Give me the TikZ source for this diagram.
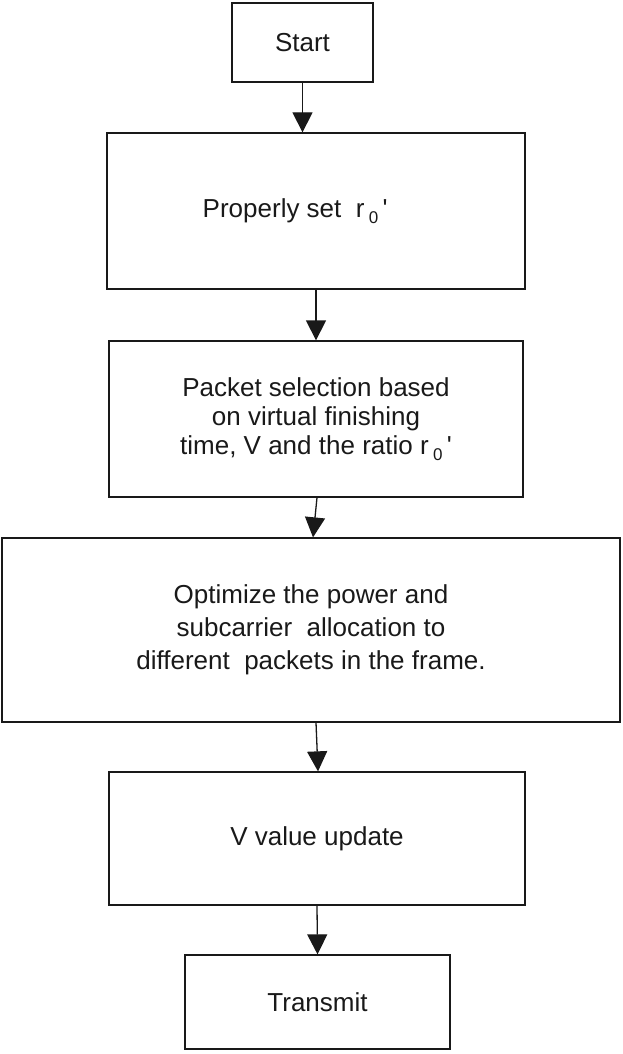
\documentclass[tikz,border=0pt]{standalone}
\usepackage{fontspec}
\setmainfont{Liberation Sans}
\usepackage{tikz}
\usetikzlibrary{arrows.meta}

\newcommand{\rzero}{r\,\raisebox{-0.45ex}{\fontsize{17}{17}\selectfont 0}\,\textquotesingle}

\begin{document}
\begin{tikzpicture}[x=1pt,y=-1pt,->,>={Triangle[length=20pt,width=20pt]},line width=1.3pt,draw=black!90]

  \tikzstyle{block}=[draw=black!90,rectangle,align=center,text=black!90,inner sep=0pt,
                     font=\fontsize{26}{29}\selectfont]

  \useasboundingbox (0,0) rectangle (622,1054);

  \node[block,minimum width=141pt,minimum height=79pt]  (start) at (302.5,42.5) {Start};
  \node[block,minimum width=418pt,minimum height=156pt] (set)   at (316,211)
        {Properly set~~\rzero\hspace*{1.6em}};
  \node[block,minimum width=414pt,minimum height=156pt] (sel)   at (316,419)
        {Packet selection based\\ on virtual finishing\\ time, V and the ratio \rzero};
  \node[block,minimum width=618pt,minimum height=184pt,
        font=\fontsize{26}{33}\selectfont]                (opt)   at (311,630)
        {Optimize the power and\\ subcarrier~ allocation to\\ different~ packets in the frame.};
  \node[block,minimum width=416pt,minimum height=133pt] (upd)   at (317,838.5) {V value update};
  \node[block,minimum width=265pt,minimum height=94pt]  (tx)    at (317.5,1002) {Transmit};

  \path (start.south) edge (start.south |- set.north)
        (sel.north |- set.south) edge (sel.north)
        ([xshift=1pt]sel.south) edge ([xshift=2pt]opt.north)
        ([xshift=5pt]opt.south) edge ([xshift=1pt]upd.north)
        (upd.south) edge (tx.north);
\end{tikzpicture}
\end{document}
